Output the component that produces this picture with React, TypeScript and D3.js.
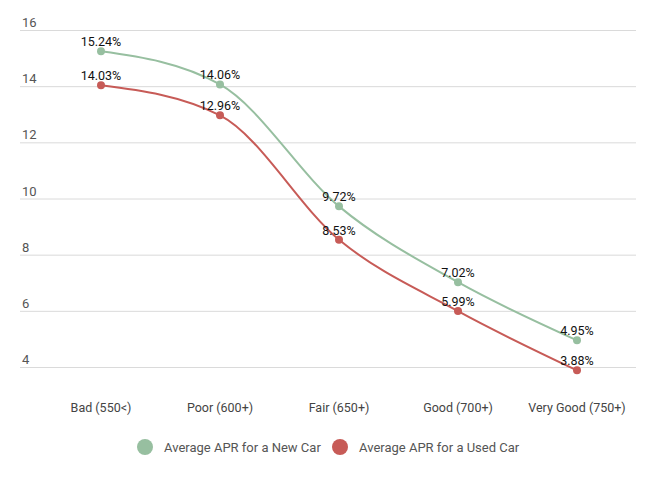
import React, { useEffect, useRef } from 'react';
import * as d3 from 'd3';

// chart data
const categories = ['Bad (550<)', 'Poor (600+)', 'Fair (650+)', 'Good (700+)', 'Very Good (750+)'];
const newCarApr = [15.24, 14.06, 9.72, 7.02, 4.95];
const usedCarApr = [14.03, 12.96, 8.53, 5.99, 3.88];
const yTicks = [4, 6, 8, 10, 12, 14, 16];
const seriesNames = ['Average APR for a New Car', 'Average APR for a Used Car'];
const seriesColors = ['#97bfa0', '#c75b57'];

const W = 663;
const H = 480;

const App: React.FC = () => {
  const ref = useRef<SVGSVGElement>(null);

  useEffect(() => {
    if (!ref.current) return;
    const svg = d3.select(ref.current);
    svg.selectAll('*').remove();

    const gridLeft = 20;
    const gridRight = 636;

    const x = d3.scaleBand<string>().domain(categories).range([41.5, 636.5]);
    const y = d3.scaleLinear().domain([4, 16]).range([367, 30]);
    const cx = (c: string) => (x(c) as number) + x.bandwidth() / 2;

    // gridlines + y labels
    const grid = svg.append('g');
    grid
      .selectAll('line')
      .data(yTicks)
      .join('line')
      .attr('x1', gridLeft)
      .attr('x2', gridRight)
      .attr('y1', (d) => y(d) + 0.5)
      .attr('y2', (d) => y(d) + 0.5)
      .attr('stroke', '#dadada')
      .attr('stroke-width', 1);

    grid
      .selectAll('text')
      .data(yTicks)
      .join('text')
      .attr('x', 22)
      .attr('y', (d) => y(d) - 3)
      .attr('fill', '#555')
      .attr('font-size', 13)
      .text((d) => d);

    // x labels
    svg
      .append('g')
      .selectAll('text')
      .data(categories)
      .join('text')
      .attr('x', (d) => cx(d))
      .attr('y', 412)
      .attr('text-anchor', 'middle')
      .attr('fill', '#444')
      .attr('font-size', 12.5)
      .text((d) => d);

    const line = d3
      .line<number>()
      .x((_, i) => cx(categories[i]))
      .y((d) => y(d))
      .curve(d3.curveMonotoneX);

    [newCarApr, usedCarApr].forEach((vals, s) => {
      const g = svg.append('g');
      g.append('path')
        .datum(vals)
        .attr('fill', 'none')
        .attr('stroke', seriesColors[s])
        .attr('stroke-width', 2)
        .attr('d', line);
      g.selectAll('circle')
        .data(vals)
        .join('circle')
        .attr('cx', (_, i) => cx(categories[i]))
        .attr('cy', (d) => y(d))
        .attr('r', 4)
        .attr('fill', seriesColors[s]);
      g.selectAll('text')
        .data(vals)
        .join('text')
        .attr('x', (_, i) => cx(categories[i]))
        .attr('y', (d) => y(d) - 5)
        .attr('text-anchor', 'middle')
        .attr('fill', '#111')
        .attr('font-size', 12.5)
        .text((d) => d.toFixed(2) + '%');
    });

    // legend
    const legend = svg.append('g');
    const legendX = [145, 340];
    seriesNames.forEach((name, i) => {
      legend
        .append('circle')
        .attr('cx', legendX[i])
        .attr('cy', 447)
        .attr('r', 8)
        .attr('fill', seriesColors[i]);
      legend
        .append('text')
        .attr('x', legendX[i] + 19)
        .attr('y', 451.5)
        .attr('fill', '#555')
        .attr('font-size', 13)
        .text(name);
    });
  }, []);

  return (
    <svg
      ref={ref}
      width={W}
      height={H}
      style={{ position: 'absolute', left: 0, top: 0, background: '#fff', fontFamily: 'Roboto, sans-serif' }}
    />
  );
};

export default App;
